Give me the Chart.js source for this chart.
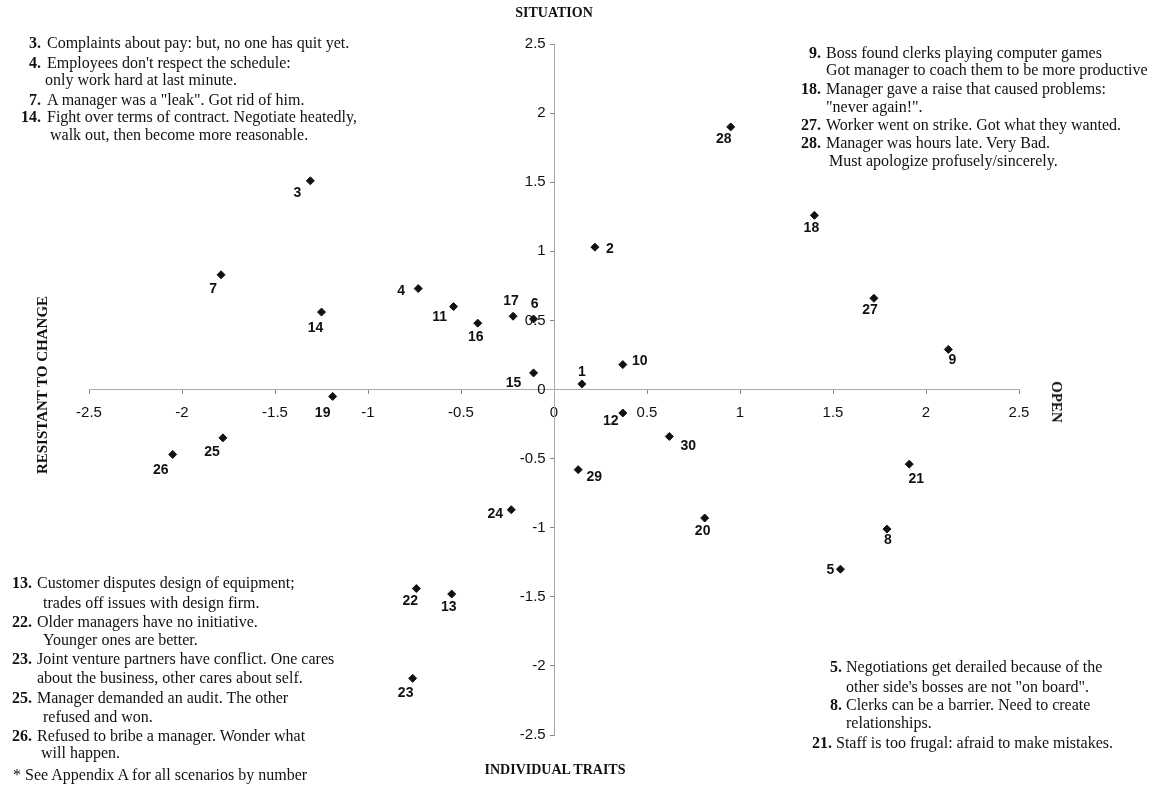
<!DOCTYPE html>
<html>
<head>
<meta charset="utf-8">
<script src="https://cdn.jsdelivr.net/npm/chart.js@4.4.1/dist/chart.umd.min.js"></script>
<style>
html, body { margin: 0; padding: 0; background: #fff; }
#wrap { position: relative; width: 1159px; height: 807px; overflow: hidden; }
#chart { position: absolute; left: 0; top: 0; }
.t { position: absolute; font-family: "Liberation Serif", "Times New Roman", serif; font-size: 16px; line-height: 18px; color: #111; white-space: nowrap; }
.n { font-weight: bold; transform: translateX(-100%); }
.h { font-weight: bold; font-size: 14px; transform: translate(-50%, -50%); }
.v1 { font-size: 15px; transform: translate(-50%, -50%) rotate(-90deg); }
.v2 { font-size: 15px; transform: translate(-50%, -50%) rotate(90deg); }
</style>
</head>
<body>
<div id="wrap">
<canvas id="chart" width="1159" height="807"></canvas>

<div class="t h" style="left:554px;top:13px">SITUATION</div>
<div class="t h" style="left:555px;top:770px">INDIVIDUAL TRAITS</div>
<div class="t h v1" style="left:42px;top:385px">RESISTANT TO CHANGE</div>
<div class="t h v2" style="left:1057px;top:402px">OPEN</div>

<!-- top left -->
<div class="t n" style="left:41px;top:34px">3.</div>
<div class="t" style="left:47px;top:34px">Complaints about pay: but, no one has quit yet.</div>
<div class="t n" style="left:41px;top:54px">4.</div>
<div class="t" style="left:47px;top:54px">Employees don't respect the schedule:</div>
<div class="t" style="left:45px;top:71px">only work hard at last minute.</div>
<div class="t n" style="left:41px;top:91px">7.</div>
<div class="t" style="left:47px;top:91px">A manager was a &quot;leak&quot;. Got rid of him.</div>
<div class="t n" style="left:41px;top:108px">14.</div>
<div class="t" style="left:47px;top:108px">Fight over terms of contract. Negotiate heatedly,</div>
<div class="t" style="left:50px;top:126px">walk out, then become more reasonable.</div>

<!-- top right -->
<div class="t n" style="left:821px;top:44px">9.</div>
<div class="t" style="left:826px;top:44px">Boss found clerks playing computer games</div>
<div class="t" style="left:826px;top:61px">Got manager to coach them to be more productive</div>
<div class="t n" style="left:821px;top:80px">18.</div>
<div class="t" style="left:826px;top:80px">Manager gave a raise that caused problems:</div>
<div class="t" style="left:826px;top:98px">&quot;never again!&quot;.</div>
<div class="t n" style="left:821px;top:116px">27.</div>
<div class="t" style="left:826px;top:116px">Worker went on strike. Got what they wanted.</div>
<div class="t n" style="left:821px;top:134px">28.</div>
<div class="t" style="left:826px;top:134px">Manager was hours late. Very Bad.</div>
<div class="t" style="left:829px;top:152px">Must apologize profusely/sincerely.</div>

<!-- bottom left -->
<div class="t n" style="left:32px;top:574px">13.</div>
<div class="t" style="left:37px;top:574px">Customer disputes design of equipment;</div>
<div class="t" style="left:43px;top:594px">trades off issues with design firm.</div>
<div class="t n" style="left:32px;top:613px">22.</div>
<div class="t" style="left:37px;top:613px">Older managers have no initiative.</div>
<div class="t" style="left:43px;top:631px">Younger ones are better.</div>
<div class="t n" style="left:32px;top:650px">23.</div>
<div class="t" style="left:37px;top:650px">Joint venture partners have conflict. One cares</div>
<div class="t" style="left:37px;top:669px">about the business, other cares about self.</div>
<div class="t n" style="left:32px;top:689px">25.</div>
<div class="t" style="left:37px;top:689px">Manager demanded an audit. The other</div>
<div class="t" style="left:43px;top:708px">refused and won.</div>
<div class="t n" style="left:32px;top:727px">26.</div>
<div class="t" style="left:37px;top:727px">Refused to bribe a manager. Wonder what</div>
<div class="t" style="left:41px;top:744px">will happen.</div>
<div class="t" style="left:13px;top:766px">* See Appendix A for all scenarios by number</div>

<!-- bottom right -->
<div class="t n" style="left:842px;top:658px">5.</div>
<div class="t" style="left:846px;top:658px">Negotiations get derailed because of the</div>
<div class="t" style="left:846px;top:678px">other side's bosses are not &quot;on board&quot;.</div>
<div class="t n" style="left:842px;top:696px">8.</div>
<div class="t" style="left:846px;top:696px">Clerks can be a barrier. Need to create</div>
<div class="t" style="left:846px;top:714px">relationships.</div>
<div class="t n" style="left:832px;top:734px">21.</div>
<div class="t" style="left:836px;top:734px">Staff is too frugal: afraid to make mistakes.</div>
</div>

<script>
// scenario numbers and their position on the two axes
const scenarios = ['1','2','3','4','5','6','7','8','9','10',
                   '11','12','13','14','15','16','17','18','19','20',
                   '21','22','23','24','25','26','27','28','29','30'];
const openness = [0.15, 0.22, -1.31, -0.73, 1.54, -0.11, -1.79, 1.79, 2.12, 0.37,
                  -0.54, 0.37, -0.55, -1.25, -0.11, -0.41, -0.22, 1.40, -1.19, 0.81,
                  1.91, -0.74, -0.76, -0.23, -1.78, -2.05, 1.72, 0.95, 0.13, 0.62];
const situation = [0.04, 1.03, 1.51, 0.73, -1.30, 0.51, 0.83, -1.01, 0.29, 0.18,
                   0.60, -0.17, -1.48, 0.56, 0.12, 0.48, 0.53, 1.26, -0.05, -0.93,
                   -0.54, -1.44, -2.09, -0.87, -0.35, -0.47, 0.66, 1.90, -0.58, -0.34];
const axisTicks = [-2.5, -2, -1.5, -1, -0.5, 0, 0.5, 1, 1.5, 2, 2.5];

// where each number sits relative to its marker (px)
const labelOffsets = [[0,-12],[15,2],[-13,12],[-17,3],[-10,1],[1,-15],[-8,14],[1,11],[4,11],[17,-3],
                      [-14,11],[-12,8],[-3,13],[-6,16],[-20,10],[-2,14],[-2,-15],[-3,13],[-10,17],[-2,13],
                      [7,15],[-6,13],[-7,15],[-16,4],[-11,14],[-12,16],[-4,12],[-7,12],[16,7],[19,10]];

const points = scenarios.map((s, i) => ({x: openness[i], y: situation[i]}));

const pointLabels = {
    id: 'pointLabels',
    afterDatasetsDraw(chart) {
        const ctx = chart.ctx;
        const meta = chart.getDatasetMeta(0);
        ctx.save();
        ctx.font = 'bold 14px "Liberation Sans", Arial, sans-serif';
        ctx.fillStyle = '#111';
        ctx.textAlign = 'center';
        ctx.textBaseline = 'middle';
        meta.data.forEach((pt, i) => {
            let off = labelOffsets[i];
            ctx.fillText(scenarios[i], pt.x + off[0], pt.y + off[1]);
        });
        ctx.restore();
    }
};

function setTicks(scale) {
    scale.ticks = axisTicks.map(v => ({value: v}));
}

let tickFont = {family: '"Liberation Sans", Arial, sans-serif', size: 15};

new Chart(document.getElementById('chart'), {
    type: 'scatter',
    data: {
        datasets: [{
            data: points,
            pointStyle: 'rectRot',
            pointRadius: 4,
            pointBorderWidth: 1,
            pointBackgroundColor: '#111',
            pointBorderColor: '#111'
        }]
    },
    options: {
        responsive: false,
        animation: false,
        layout: {padding: {left: 89, right: 140, top: 44, bottom: 72}},
        plugins: {legend: {display: false}, tooltip: {enabled: false}},
        scales: {
            x: {
                type: 'linear', min: -2.5, max: 2.5,
                position: {y: 0},
                afterBuildTicks: setTicks,
                grid: {drawOnChartArea: false, tickLength: 4, color: '#888'},
                border: {color: '#aaa', dash: [2, 3]},
                ticks: {font: tickFont, color: '#111', padding: 10, callback: v => String(v)}
            },
            y: {
                type: 'linear', min: -2.5, max: 2.5,
                position: {x: 0},
                afterBuildTicks: setTicks,
                grid: {drawOnChartArea: false, tickLength: 4, color: '#888'},
                border: {color: '#aaa', dash: [2, 3]},
                // centred axes ignore padding, so pad the label itself
                ticks: {font: tickFont, color: '#111', callback: v => String(v) + '  '}
            }
        }
    },
    plugins: [pointLabels]
});
</script>
</body>
</html>
